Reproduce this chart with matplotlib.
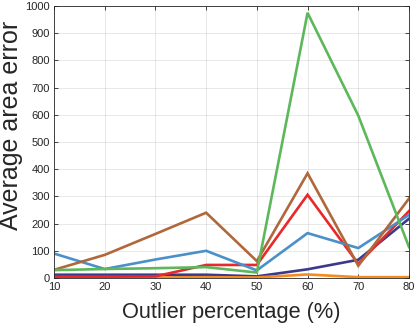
import matplotlib
matplotlib.use("Agg")
import matplotlib.pyplot as plt

plt.rcParams['font.family'] = ['Liberation Sans', 'DejaVu Sans']

x = [10, 20, 30, 40, 50, 60, 70, 80]
blue = [90, 33, 68, 100, 28, 165, 110, 232]
brown = [30, 85, 162, 240, 62, 385, 45, 292]
red = [5, 5, 6, 48, 48, 306, 52, 246]
green = [29, 33, 36, 40, 20, 975, 597, 114]
navy = [12, 12, 12, 12, 6, 32, 67, 218]
orange = [2, 2, 2, 3, 2, 13, 3, 3]

series = [
    (navy, '#3b3a8a'),
    (orange, '#f58a1f'),
    (red, '#e8282b'),
    (blue, '#4a90c9'),
    (brown, '#b0683a'),
    (green, '#5cb85a'),
]

fig = plt.figure(figsize=(4.17, 3.25), dpi=100)
ax = fig.add_axes([54/417, (325-278)/325, (409-54)/417, (278-6)/325])

for vals, c in series:
    ax.plot(x, vals, color=c, linewidth=1.9, solid_joinstyle='miter')

ax.set_xlim(10, 80)
ax.set_ylim(0, 1000)
ax.set_xticks(x)
ax.set_yticks(range(0, 1001, 100))
ax.grid(True, color='#262626', alpha=0.12, linewidth=0.6)
ax.set_axisbelow(True)
for s in ax.spines.values():
    s.set_color('#262626')
    s.set_linewidth(0.6)
ax.tick_params(direction='in', length=3, width=0.6, colors='#262626',
               labelsize=8, top=True, right=True, pad=3)
ax.set_xlabel('Outlier percentage (%)', fontsize=15.7, color='#262626')
ax.set_ylabel('Average area error', fontsize=18, color='#262626')
ax.xaxis.set_label_coords(0.5, -0.089)
ax.yaxis.set_label_coords(-0.087, 0.56)

fig.savefig('out.png', dpi=100)
